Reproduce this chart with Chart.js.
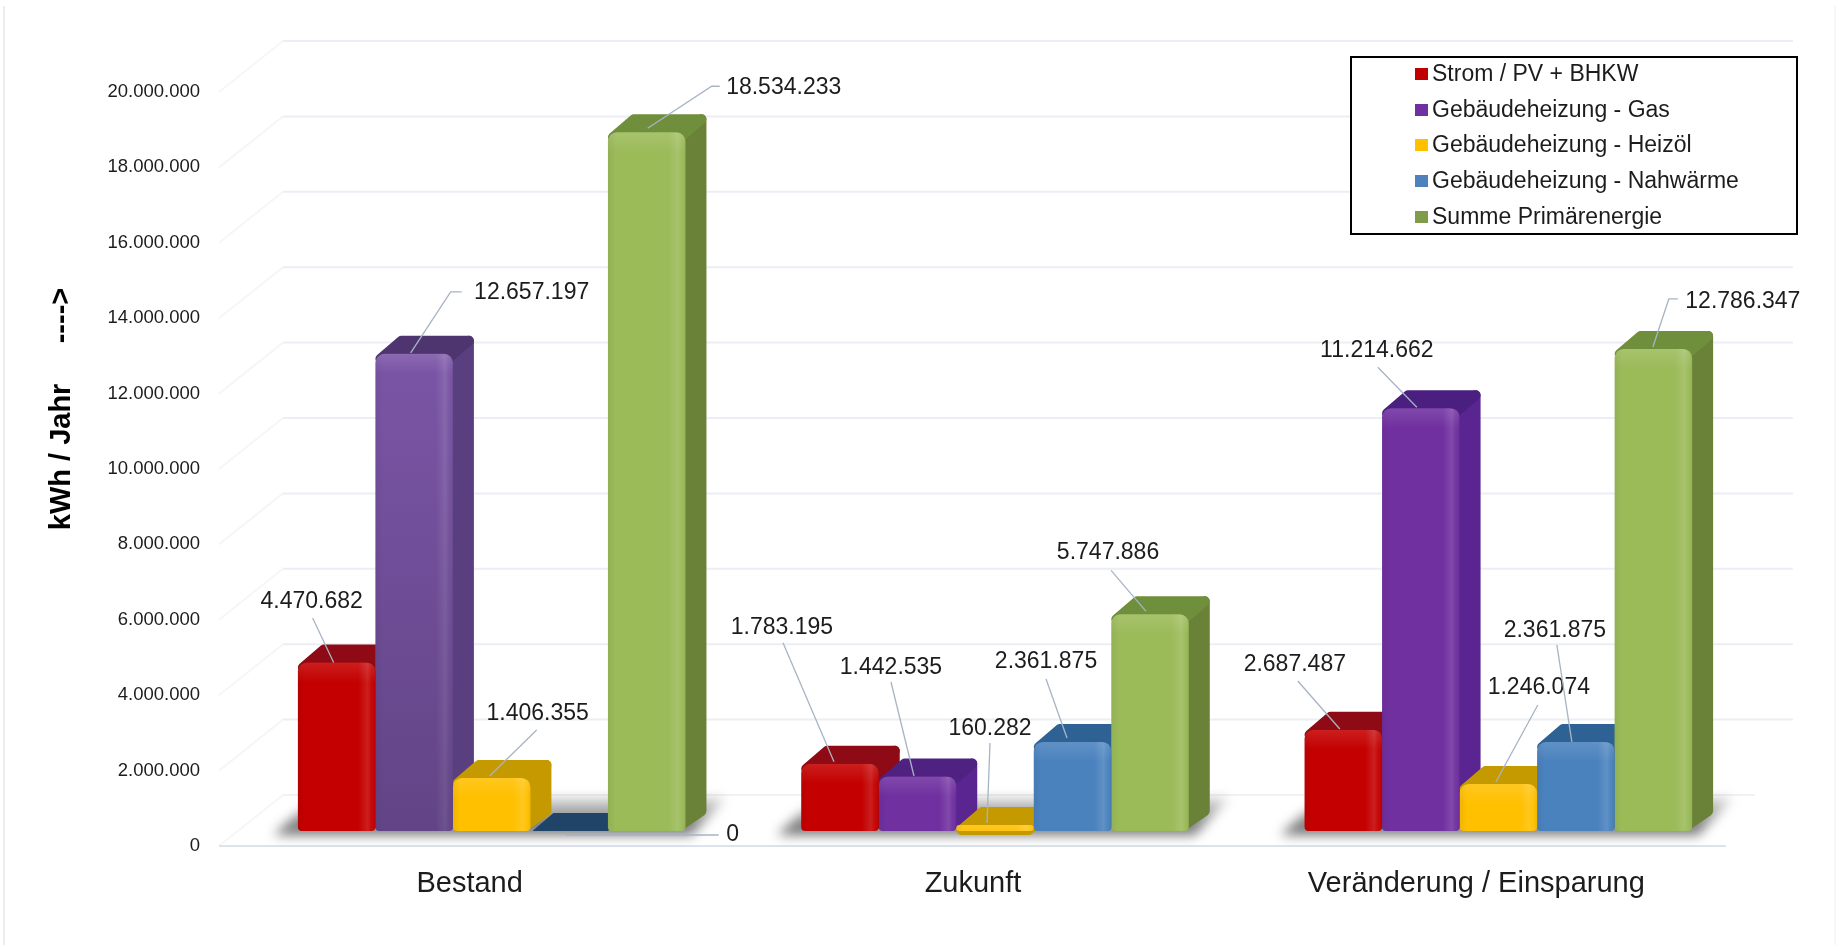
<!DOCTYPE html>
<html lang="de">
<head>
<meta charset="utf-8">
<title>kWh / Jahr</title>
<style>html,body{margin:0;padding:0;background:#fff}canvas{display:block;filter:blur(.45px)}</style>
<script src="https://cdn.jsdelivr.net/npm/chart.js@4/dist/chart.umd.min.js"></script>
</head>
<body>
<canvas id="c" width="1843" height="947"></canvas>
<script>
const categories = ["Bestand", "Zukunft", "Veränderung / Einsparung"];
const seriesNames = ["Strom / PV + BHKW", "Gebäudeheizung - Gas", "Gebäudeheizung - Heizöl", "Gebäudeheizung - Nahwärme", "Summe Primärenergie"];
const strom = [4470682, 1783195, 2687487];
const gas = [12657197, 1442535, 11214662];
const heizoel = [1406355, 160282, 1246074];
const nahwaerme = [0, 2361875, 2361875];
const summe = [18534233, 5747886, 12786347];
const yTickValues = [0, 2000000, 4000000, 6000000, 8000000, 10000000, 12000000, 14000000, 16000000, 18000000, 20000000];
const yTitle = "kWh / Jahr     ---->";

// Styling and layout (not data)
const FONT = '"Liberation Sans", Arial, sans-serif';
const frontColors = [
  ["#C40000", "#C40000", "#C40000"],
  ["#7B55A6", "#7030A0", "#7030A0"],
  ["#FFC000", "#FFC000", "#FFC000"],
  ["#1F4E79", "#4A82BE", "#4A82BE"],
  ["#9BBB59", "#9BBB59", "#9BBB59"]
];
const topColors = [["#8E0A14"], ["#4E3570", "#4F2180", "#4A1F80"], ["#C49A00"], ["#1F4468", "#2F6294", "#2F6294"], ["#6F8F3C"]];
const sideColors = [["#8E0A14"], ["#5A3F80", "#5A2590", "#5A2590"], ["#C49A00"], ["#1F4468", "#2F6294", "#2F6294"], ["#6A8238"]];
const legendSwatches = ["#C00000", "#7030A0", "#FFC000", "#4F81BD", "#7E9C4A"];
const DEPTH_X = 21, DEPTH_Y = 18;          // bar depth
const WALL_X = 43, WALL_Y = 36;            // gridlines on the rear wall
const FRONT_X = 21, FRONT_Y = 15;          // front floor edge / tick plane

// Offsets of each value label from its bar top: label centre, then leader line points
const leaders = [
  [{l:[-25,-60.5], p:[[-3,0],[-24,-44.5]]}, {l:[-58,-136], p:[[-6,-2],[-57,-121]]}, {l:[-48.5,-64.7], p:[[-3.5,-.7],[-45.5,-48.7]]}],
  [{l:[117.5,-61], p:[[-3.5,-1],[36.5,-62],[47.5,-62]]}, {l:[-26.5,-108.6], p:[[-3.5,-.6],[-26.5,-94.6]]}, {l:[-44,-58], p:[[-4,-1],[-43,-41]]}],
  [{l:[46,-64], p:[[-2,-2],[45,-48]]}, {l:[-5,-96], p:[[-8,-2],[-5,-82]]}, {l:[40.5,-96], p:[[-2.5,-2],[39.5,-79]]}],
  [{l:[163.5,4], p:[[-3.5,4],[149.5,4]]}, {l:[-26.5,-80], p:[[-5.5,-4],[-26.5,-63]]}, {l:[-21,-111], p:[[-4,0],[-19,-97]]}],
  [{l:[137,-45], p:[[1,-4],[65,-46],[73,-46]]}, {l:[-42,-62], p:[[-4,-3],[-39,-44]]}, {l:[89.5,-47], p:[[-.5,-2],[15.5,-50],[24.5,-50]]}]
];

const fmt = v => String(v).replace(/\B(?=(\d{3})+(?!\d))/g, ".");
const pick = (arr, j) => arr[j] !== undefined ? arr[j] : arr[0];
const BAR_RADIUS = {topLeft: 9, topRight: 9, bottomLeft: 4, bottomRight: 4};

const scene = {
  id: "scene",
  beforeDatasetsDraw(chart) {
    const {ctx, scales: {y}} = chart;
    const a = chart.chartArea;
    ctx.save();
    // page frame
    ctx.lineWidth = 2;
    ctx.strokeStyle = "#ececec";
    ctx.beginPath(); ctx.moveTo(4, 6); ctx.lineTo(4, 945); ctx.stroke();
    ctx.strokeStyle = "#f7f7f7";
    ctx.beginPath(); ctx.moveTo(1835, 6); ctx.lineTo(1835, 945); ctx.stroke();
    // rear wall gridlines and left wall diagonals
    const wallL = a.left + WALL_X, wallR = a.right + WALL_X;
    const frontL = a.left - FRONT_X, frontR = a.right - FRONT_X - 3;
    yTickValues.forEach(v => {
      const py = y.getPixelForValue(v);
      ctx.strokeStyle = "#f6f6f7"; ctx.lineWidth = 2;
      ctx.beginPath(); ctx.moveTo(frontL, py + FRONT_Y); ctx.lineTo(wallL, py - WALL_Y); ctx.stroke();
      if (v > 0) {
        ctx.strokeStyle = "#ecedf5"; ctx.lineWidth = 2;
        ctx.beginPath(); ctx.moveTo(wallL, py - WALL_Y); ctx.lineTo(wallR, py - WALL_Y); ctx.stroke();
      }
    });
    // front floor edge
    const zero = y.getPixelForValue(0);
    ctx.strokeStyle = "#dbe4ee"; ctx.lineWidth = 2;
    ctx.beginPath(); ctx.moveTo(frontL, zero + FRONT_Y); ctx.lineTo(frontR, zero + FRONT_Y); ctx.stroke();
    ctx.strokeStyle = "#f1f2f5";
    ctx.beginPath(); ctx.moveTo(wallL, zero - WALL_Y); ctx.lineTo(a.right + 5, zero - WALL_Y); ctx.stroke();
    // floor shadows
    const metas = chart.data.datasets.map((d, i) => chart.getDatasetMeta(i));
    categories.forEach((c, j) => {
      const first = metas[0].data[j], last = metas[4].data[j];
      const L = first.x - first.width / 2, R = last.x + last.width / 2;
      ctx.save();
      ctx.filter = "blur(6px)";
      const g = ctx.createLinearGradient(0, zero - 36, 0, zero + 4);
      g.addColorStop(0, "rgba(90,90,90,.18)");
      g.addColorStop(0.6, "rgba(80,80,80,.65)");
      g.addColorStop(1, "rgba(70,70,70,.8)");
      ctx.fillStyle = g;
      ctx.beginPath();
      ctx.moveTo(L - 24, zero + 4); ctx.lineTo(R + 6, zero + 4);
      ctx.lineTo(R + 40, zero - 33); ctx.lineTo(L + 40, zero - 33);
      ctx.lineTo(L, zero - 18);
      ctx.closePath(); ctx.fill();
      ctx.restore();
    });
    // side and top faces, left to right; the library's bars draw the front faces over them
    ctx.lineJoin = "round"; ctx.lineWidth = 10;
    categories.forEach((c, j) => {
      metas.forEach((m, i) => {
        const b = m.data[j], L = b.x - b.width / 2, R = b.x + b.width / 2;
        const yt = b.y + 5, base = b.base;
        const side = pick(sideColors[i], j), top = pick(topColors[i], j);
        if (base - b.y > 3) {
          ctx.fillStyle = ctx.strokeStyle = side;
          ctx.beginPath();
          ctx.moveTo(R - 6, yt); ctx.lineTo(R + DEPTH_X - 5, yt - DEPTH_Y);
          ctx.lineTo(R + DEPTH_X - 5, base - DEPTH_Y - 2); ctx.lineTo(R - 6, base - 5);
          ctx.closePath(); ctx.fill(); ctx.stroke();
          ctx.fillStyle = ctx.strokeStyle = top;
          ctx.beginPath();
          ctx.moveTo(L + 5, yt); ctx.lineTo(L + DEPTH_X + 5, yt - DEPTH_Y);
          ctx.lineTo(R + DEPTH_X - 5, yt - DEPTH_Y); ctx.lineTo(R - 5, yt);
          ctx.closePath(); ctx.fill(); ctx.stroke();
        } else {
          ctx.fillStyle = top;
          ctx.beginPath();
          ctx.moveTo(L + 2, base); ctx.lineTo(L + DEPTH_X + 2, base - DEPTH_Y);
          ctx.lineTo(R + DEPTH_X, base - DEPTH_Y); ctx.lineTo(R, base);
          ctx.closePath(); ctx.fill();
        }
      });
    });
    ctx.restore();
  },
  afterDatasetsDraw(chart) {
    const {ctx} = chart;
    const metas = chart.data.datasets.map((d, i) => chart.getDatasetMeta(i));
    ctx.save();
    // bevel shading on the front faces
    metas.forEach((m, i) => m.data.forEach((b, j) => {
      const h = b.base - b.y;
      if (h < 4) return;
      const L = b.x - b.width / 2, R = b.x + b.width / 2;
      ctx.save();
      ctx.beginPath();
      ctx.roundRect(L, b.y, b.width, h, [9, 9, 4, 4]);
      ctx.clip();
      const hr = ctx.createLinearGradient(L, 0, R, 0);
      hr.addColorStop(0, "rgba(0,0,0,.06)");
      hr.addColorStop(0.1, "rgba(0,0,0,0)");
      hr.addColorStop(0.78, "rgba(255,255,255,0)");
      hr.addColorStop(0.9, "rgba(255,255,255,.12)");
      hr.addColorStop(0.95, "rgba(255,255,255,.03)");
      hr.addColorStop(1, "rgba(0,0,0,.06)");
      ctx.fillStyle = hr;
      ctx.fillRect(L, b.y, b.width, h);
      const vt = ctx.createLinearGradient(0, b.y, 0, b.y + 20);
      vt.addColorStop(0, "rgba(255,255,255,.12)");
      vt.addColorStop(1, "rgba(255,255,255,0)");
      ctx.fillStyle = vt;
      ctx.fillRect(L, b.y, b.width, Math.min(20, h));
      if (i === 1 && j === 0) {
        const v = ctx.createLinearGradient(0, b.y, 0, b.base);
        v.addColorStop(0, "rgba(40,30,60,0)");
        v.addColorStop(1, "rgba(40,30,60,.3)");
        ctx.fillStyle = v;
        ctx.fillRect(L, b.y, b.width, h);
      }
      ctx.restore();
    }));
    // value labels and leader lines
    ctx.font = "23px " + FONT;
    ctx.textAlign = "center"; ctx.textBaseline = "middle";
    metas.forEach((m, i) => m.data.forEach((b, j) => {
      const cfg = leaders[i][j];
      ctx.strokeStyle = "#a7b4c4"; ctx.lineWidth = 1.3;
      ctx.beginPath();
      cfg.p.forEach((q, k) => k ? ctx.lineTo(b.x + q[0], b.y + q[1]) : ctx.moveTo(b.x + q[0], b.y + q[1]));
      ctx.stroke();
      ctx.fillStyle = "#1c1c1c";
      ctx.fillText(fmt(chart.data.datasets[i].data[j]), b.x + cfg.l[0], b.y + cfg.l[1]);
    }));
    // y axis title
    ctx.save();
    ctx.translate(62, 409);
    ctx.rotate(-Math.PI / 2);
    ctx.font = "bold 29px " + FONT;
    ctx.fillStyle = "#000";
    ctx.fillText(yTitle, 0, 0);
    ctx.restore();
    // legend
    ctx.strokeStyle = "#000"; ctx.lineWidth = 2;
    ctx.fillStyle = "#fff";
    ctx.fillRect(1351, 57, 446, 177);
    ctx.strokeRect(1351, 57, 446, 177);
    ctx.font = "23px " + FONT; ctx.textAlign = "left";
    const rows = [74, 110, 145, 181, 217];
    seriesNames.forEach((name, i) => {
      ctx.fillStyle = legendSwatches[i];
      ctx.fillRect(1415, rows[i] - 6, 13, 12);
      ctx.fillStyle = "#1c1c1c";
      ctx.fillText(name, 1432, rows[i] + 1);
    });
    ctx.restore();
  }
};

const fronts = i => ({
  label: seriesNames[i],
  backgroundColor: frontColors[i],
  borderWidth: 0,
  borderRadius: BAR_RADIUS,
  borderSkipped: false,
  barPercentage: 1,
  categoryPercentage: 0.77
});

new Chart(document.getElementById("c"), {
  type: "bar",
  data: {
    labels: categories,
    datasets: [strom, gas, heizoel, nahwaerme, summe].map((data, i) => Object.assign({data}, fronts(i)))
  },
  options: {
    responsive: false,
    animation: false,
    layout: {padding: {top: 77, left: 0, right: 93, bottom: 0}},
    plugins: {legend: {display: false}, tooltip: {enabled: false}, title: {display: false}},
    scales: {
      x: {
        grid: {display: false, drawTicks: false},
        border: {display: false},
        ticks: {
          color: "#1c1c1c", font: {family: FONT, size: 29},
          labelOffset: -22, padding: 36, maxRotation: 0, autoSkip: false
        },
        afterFit(s) { s.height = 116; s.paddingLeft = 0; s.paddingRight = 0; }
      },
      y: {
        min: 0, max: 20000000,
        afterBuildTicks(s) { s.ticks = yTickValues.map(value => ({value})); },
        grid: {display: false, drawTicks: false},
        border: {display: false},
        ticks: {
          color: "#1c1c1c", font: {family: FONT, size: 18.5},
          padding: 40, labelOffset: 15,
          callback: v => fmt(v)
        },
        afterFit(s) { s.width = 240; s.paddingTop = 0; s.paddingBottom = 0; }
      }
    }
  },
  plugins: [scene]
});
</script>
</body>
</html>
